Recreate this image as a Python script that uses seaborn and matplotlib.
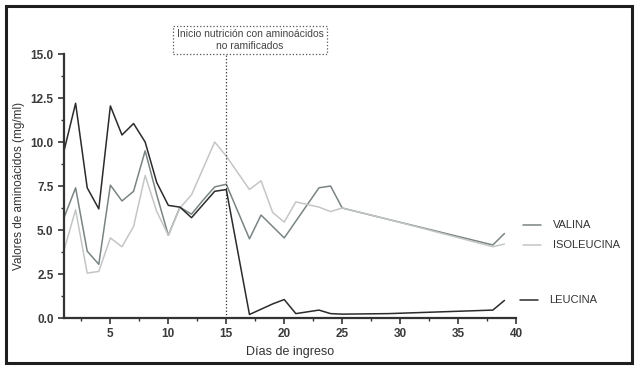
import pandas as pd
import matplotlib.pyplot as plt
import seaborn as sns
from matplotlib.lines import Line2D
from matplotlib.patches import Rectangle
from matplotlib.ticker import MultipleLocator

# days of admission and amino acid levels (mg/ml)
dias = [1, 2, 3, 4, 5, 6, 7, 8, 9, 10, 11, 12, 13, 14, 15,
        17, 18, 19, 20, 21, 23, 24, 25, 29, 38, 39]
valina = [5.7, 7.4, 3.8, 3.05, 7.55, 6.65, 7.2, 9.5, 7.0, 4.7, 6.3, 5.9, 6.7, 7.45, 7.6,
          4.5, 5.85, 5.2, 4.55, 5.5, 7.4, 7.5, 6.25, 5.6, 4.15, 4.8]
isoleucina = [3.85, 6.15, 2.55, 2.65, 4.55, 4.05, 5.2, 8.1, 6.05, 4.7, 6.25, 7.0, 8.5, 10.0, 9.2,
              7.3, 7.8, 6.0, 5.45, 6.6, 6.3, 6.05, 6.25, 5.6, 4.05, 4.2]
leucina = [9.5, 12.2, 7.4, 6.2, 12.05, 10.4, 11.05, 10.0, 7.7, 6.4, 6.3, 5.7, 6.45, 7.2, 7.3,
           0.2, 0.5, 0.8, 1.05, 0.25, 0.45, 0.25, 0.22, 0.25, 0.45, 1.0]

series = ['VALINA', 'ISOLEUCINA', 'LEUCINA']
colores = {'VALINA': '#7a8484', 'ISOLEUCINA': '#c4c6c6', 'LEUCINA': '#2b2b2b'}
dia_inicio = 15
nota = 'Inicio nutrición con aminoácidos\nno ramificados'

df = pd.DataFrame({'dia': dias * 3,
                   'valor': valina + isoleucina + leucina,
                   'serie': [s for s in series for _ in dias]})

sns.set_style('ticks')
plt.rcParams['font.family'] = ['Liberation Sans', 'DejaVu Sans']

fig = plt.figure(figsize=(6.37, 3.70), dpi=100)
ax = fig.add_axes([0.1005, 0.1405, 0.7096, 0.7135])

sns.lineplot(data=df, x='dia', y='valor', hue='serie', hue_order=series,
             palette=colores, linewidth=1.1, legend=False, ax=ax)

ax.set_xlim(1, 40)
ax.set_ylim(0, 15)
ax.xaxis.set_major_locator(MultipleLocator(5))
ax.xaxis.set_minor_locator(MultipleLocator(2.5))
ax.yaxis.set_major_locator(MultipleLocator(2.5))
ax.yaxis.set_minor_locator(MultipleLocator(1.25))
ax.set_yticklabels([f'{v:.1f}' for v in ax.get_yticks()])
ax.tick_params(which='major', length=4, width=1.2, colors='#333333', labelsize=8.5)
ax.tick_params(which='minor', length=2.5, width=1.0, colors='#333333')
for lab in ax.get_xticklabels() + ax.get_yticklabels():
    lab.set_fontweight('bold')
    lab.set_color('#3a3a3a')
for s in ['left', 'bottom']:
    ax.spines[s].set_linewidth(1.6)
    ax.spines[s].set_color('#333333')
sns.despine(ax=ax)

ax.set_xlabel('Días de ingreso', fontsize=9, color='#333333', labelpad=4)
ax.set_ylabel('Valores de aminoácidos (mg/ml)', fontsize=8.5, color='#333333', labelpad=4)

# vertical marker for start of nutrition, going up to the note box
ax.axvline(dia_inicio, ymin=0, ymax=1.0, color='#333333', lw=0.9, ls=':', clip_on=False)
ax.text(0.3925, 0.892, nota, transform=fig.transFigure, ha='center', va='center',
        fontsize=7.5, color='#444444', linespacing=1.2,
        bbox=dict(boxstyle='square,pad=0.3', fc='white', ec='#555555', ls=':', lw=0.9))

# legend drawn by hand on the right
leg_y = {'VALINA': 0.392, 'ISOLEUCINA': 0.338, 'LEUCINA': 0.189}
leg_x = {'VALINA': 0.868, 'ISOLEUCINA': 0.868, 'LEUCINA': 0.862}
for s in series:
    y = leg_y[s]
    x0 = 0.821 if s != 'LEUCINA' else 0.816
    fig.add_artist(Line2D([x0, x0 + 0.029], [y, y], transform=fig.transFigure,
                          color=colores[s], lw=1.1))
    fig.text(leg_x[s], y, s, fontsize=8, color='#333333', va='center')

# outer frame
fig.add_artist(Rectangle((0.009, 0.019), 0.983, 0.965, transform=fig.transFigure,
                         fill=False, ec='#1e1e1e', lw=2.2))

fig.savefig('out.png', dpi=100)
